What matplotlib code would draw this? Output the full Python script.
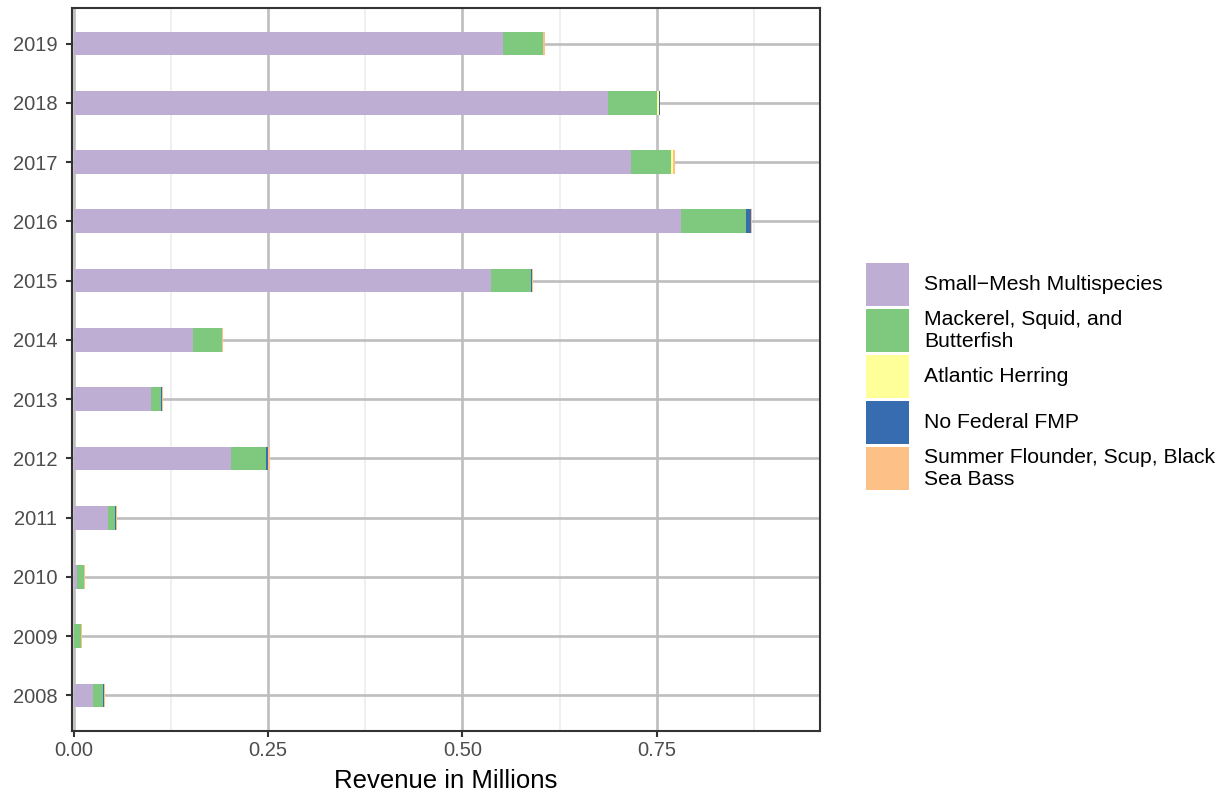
import matplotlib.pyplot as plt
from matplotlib.patches import Rectangle
from matplotlib.ticker import MultipleLocator

plt.rcParams["font.family"] = ["Liberation Sans", "DejaVu Sans"]

years = [2008, 2009, 2010, 2011, 2012, 2013, 2014, 2015, 2016, 2017, 2018, 2019]
fmps = [
    "Small\u2212Mesh Multispecies",
    "Mackerel, Squid, and\nButterfish",
    "Atlantic Herring",
    "No Federal FMP",
    "Summer Flounder, Scup, Black\nSea Bass",
]
colors = ["#BEAED4", "#7FC97F", "#FFFF99", "#386CB0", "#FDC086"]

# revenue in millions by FMP
small_mesh = [0.0245, 0.0, 0.005, 0.0438, 0.202, 0.100, 0.153, 0.5375, 0.781, 0.717, 0.687, 0.552]
mackerel = [0.0135, 0.0099, 0.009, 0.009, 0.046, 0.012, 0.0375, 0.0505, 0.084, 0.052, 0.064, 0.052]
herring = [0.0, 0.0, 0.0, 0.0, 0.0, 0.0, 0.0, 0.0, 0.0, 0.0025, 0.0015, 0.0]
no_fmp = [0.0012, 0.0, 0.0, 0.0012, 0.0026, 0.0012, 0.0, 0.0012, 0.0065, 0.0, 0.0015, 0.0]
summer_fl = [0.0008, 0.0012, 0.0013, 0.0013, 0.0017, 0.0013, 0.0013, 0.0012, 0.001, 0.0017, 0.0006, 0.0022]

series = [small_mesh, mackerel, herring, no_fmp, summer_fl]

W, H = 1225, 797
fig = plt.figure(figsize=(W / 100, H / 100), dpi=100)
ax = fig.add_axes([72 / W, 1 - 731 / H, (820 - 72) / W, (731 - 8) / H])

ypos = list(range(len(years)))
left = [0.0] * len(years)
for vals, col in zip(series, colors):
    ax.barh(ypos, vals, left=left, height=0.4, color=col, linewidth=0, zorder=3)
    left = [a + b for a, b in zip(left, vals)]

ax.set_xlim(-0.002, 0.96)
ax.set_ylim(-0.6, 11.6)
ax.set_yticks(ypos)
ax.set_yticklabels([str(y) for y in years])
ax.xaxis.set_minor_locator(MultipleLocator(0.125))
ax.set_xticks([0, 0.25, 0.5, 0.75])
ax.set_xticklabels(["0.00", "0.25", "0.50", "0.75"])

ax.grid(True, which="major", color="#BEBEBE", linewidth=1.9, zorder=0)
ax.grid(True, which="minor", axis="x", color="#EBEBEB", linewidth=1.1, zorder=0)
ax.set_axisbelow(True)

ax.tick_params(axis="both", which="major", length=4, width=1.5, color="#333333",
               labelsize=14.5, labelcolor="#4D4D4D", pad=3)
ax.tick_params(axis="y", pad=6.5)
ax.tick_params(axis="x", which="minor", length=0)
for s in ax.spines.values():
    s.set_color("#333333")
    s.set_linewidth(1.5)

ax.set_xlabel("Revenue in Millions", fontsize=18.5, labelpad=7)

# legend drawn as ggplot-style keys
for i, (lab, col) in enumerate(zip(fmps, colors)):
    top = 263 + 46 * i
    fig.patches.append(Rectangle((866 / W, 1 - (top + 43) / H), 43 / W, 43 / H,
                                 transform=fig.transFigure, facecolor=col,
                                 edgecolor="none"))
    fig.text(924 / W, 1 - (top + 21.5) / H, lab, fontsize=15.2, va="center",
             ha="left", linespacing=1.25)

fig.savefig("out.png", dpi=100)
